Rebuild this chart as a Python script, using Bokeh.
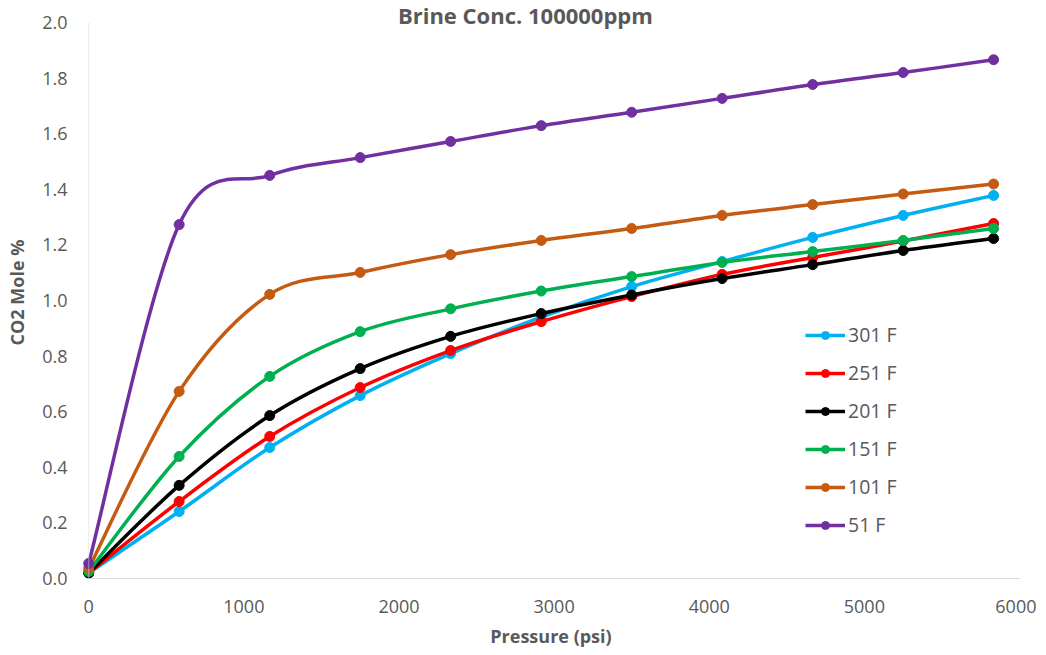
from bokeh.plotting import figure
from bokeh.models import (Range1d, FixedTicker, PrintfTickFormatter, BoxAnnotation, Label,
                          Legend, LegendItem, ColumnDataSource)
from bokeh.embed import file_html
from bokeh.resources import INLINE

# ---- data ----
pressure = [0, 583, 1167, 1750, 2333, 2917, 3500, 4083, 4667, 5250, 5833]
t301 = [0.020, 0.241, 0.471, 0.658, 0.809, 0.940, 1.050, 1.140, 1.227, 1.306, 1.378]
t251 = [0.020, 0.277, 0.511, 0.687, 0.820, 0.924, 1.014, 1.094, 1.155, 1.214, 1.277]
t201 = [0.020, 0.335, 0.586, 0.755, 0.871, 0.953, 1.020, 1.079, 1.129, 1.180, 1.223]
t151 = [0.025, 0.439, 0.727, 0.888, 0.970, 1.034, 1.086, 1.137, 1.176, 1.216, 1.259]
t101 = [0.036, 0.673, 1.022, 1.101, 1.165, 1.216, 1.259, 1.306, 1.345, 1.383, 1.419]
t51 = [0.054, 1.273, 1.450, 1.514, 1.572, 1.629, 1.677, 1.727, 1.777, 1.820, 1.866]

series_names = ["301 F", "251 F", "201 F", "151 F", "101 F", "51 F"]
series_values = [t301, t251, t201, t151, t101, t51]
series_colors = ["#00B0F0", "#FF0000", "#000000", "#00B050", "#C55A11", "#7030A0"]

x_ticks = [0, 1000, 2000, 3000, 4000, 5000, 6000]
y_ticks = [0.0, 0.2, 0.4, 0.6, 0.8, 1.0, 1.2, 1.4, 1.6, 1.8, 2.0]

title_text = "Brine Conc. 100000ppm"
x_title = "Pressure (psi)"
y_title = "CO2 Mole %"

TEXT = "#595959"
AXIS = "#D9D9D9"
FONT = "Open Sans"

X_MIN, X_MAX = 0, 6000
Y_MIN, Y_MAX = 0.0, 2.0


def smooth_segments(xs, ys):
    """Bezier segments through the data points (Excel-like smoothed line)."""
    n = len(xs)
    d = dict(x0=[], y0=[], x1=[], y1=[], cx0=[], cy0=[], cx1=[], cy1=[])
    for i in range(n - 1):
        xp, yp = (xs[i - 1], ys[i - 1]) if i > 0 else (xs[i], ys[i])
        xn, yn = (xs[i + 2], ys[i + 2]) if i + 2 < n else (xs[i + 1], ys[i + 1])
        d["x0"].append(xs[i]); d["y0"].append(ys[i])
        d["x1"].append(xs[i + 1]); d["y1"].append(ys[i + 1])
        d["cx0"].append(xs[i] + (xs[i + 1] - xp) / 6.0)
        d["cy0"].append(ys[i] + (ys[i + 1] - yp) / 6.0)
        d["cx1"].append(xs[i + 1] - (xn - xs[i]) / 6.0)
        d["cy1"].append(ys[i + 1] - (yn - ys[i]) / 6.0)
    return d


# frame is padded a little left of 0 and above 2.0 so end markers and the title are not clipped
p = figure(width=1036, height=652,
           x_range=Range1d(X_MIN - 40, X_MAX), y_range=Range1d(Y_MIN, Y_MAX + 16 / 278.0),
           output_backend="svg", toolbar_location=None,
           min_border_left=82, min_border_right=17,
           min_border_top=6, min_border_bottom=74)
p.outline_line_color = None
p.xgrid.grid_line_color = None
p.ygrid.grid_line_color = None
p.background_fill_color = "white"
p.border_fill_color = "white"

# axes
p.xaxis.ticker = FixedTicker(ticks=x_ticks)
p.yaxis.ticker = FixedTicker(ticks=y_ticks)
p.xaxis.formatter = PrintfTickFormatter(format="%d")
p.yaxis.formatter = PrintfTickFormatter(format="%.1f")
for ax in (p.xaxis, p.yaxis):
    ax.major_tick_line_color = None
    ax.minor_tick_line_color = None
    ax.major_tick_out = 0
    ax.major_tick_in = 0
    ax.major_label_text_font = FONT
    ax.major_label_text_font_size = "18px"
    ax.major_label_text_color = TEXT
    ax.axis_label_text_font = FONT
    ax.axis_label_text_font_size = "18px"
    ax.axis_label_text_font_style = "bold"
    ax.axis_label_text_color = TEXT
p.xaxis.axis_line_color = AXIS
p.xaxis.bounds = (X_MIN, X_MAX)
p.yaxis.axis_line_color = None
p.xaxis.major_label_standoff = 21
p.yaxis.major_label_standoff = 15
p.xaxis.axis_label = x_title
p.yaxis.axis_label = y_title
p.xaxis.axis_label_standoff = 8
p.yaxis.axis_label_standoff = 10

# vertical axis line at x = 0, from 0.0 to 2.0
p.add_layout(BoxAnnotation(left=X_MIN, right=X_MIN, bottom=Y_MIN, top=Y_MAX,
                           fill_alpha=0, line_color=AXIS, line_width=1))

items = []
for name, vals, col in zip(series_names, series_values, series_colors):
    src = ColumnDataSource(smooth_segments(pressure, vals))
    br = p.bezier(x0="x0", y0="y0", x1="x1", y1="y1", cx0="cx0", cy0="cy0",
                  cx1="cx1", cy1="cy1", source=src, line_color=col, line_width=3.5)
    sr = p.scatter(pressure, vals, size=10, marker="circle",
                   fill_color=col, line_color=col)
    items.append(LegendItem(label=name, renderers=[br, sr]))

legend = Legend(items=items, location=(723, 40), orientation="vertical",
                glyph_width=40, glyph_height=20, label_height=20, spacing=11,
                padding=0, margin=0, border_line_color=None,
                background_fill_alpha=0, label_text_font=FONT,
                label_text_font_size="19.5px", label_text_color=TEXT,
                label_standoff=3)
p.add_layout(legend)

p.add_layout(Label(x=2815, y=Y_MAX, y_offset=8, text=title_text,
                   text_align="center", text_baseline="alphabetic",
                   text_font=FONT, text_font_style="bold",
                   text_font_size="22px", text_color=TEXT))

open("out.html", "w").write(file_html(p, INLINE))
